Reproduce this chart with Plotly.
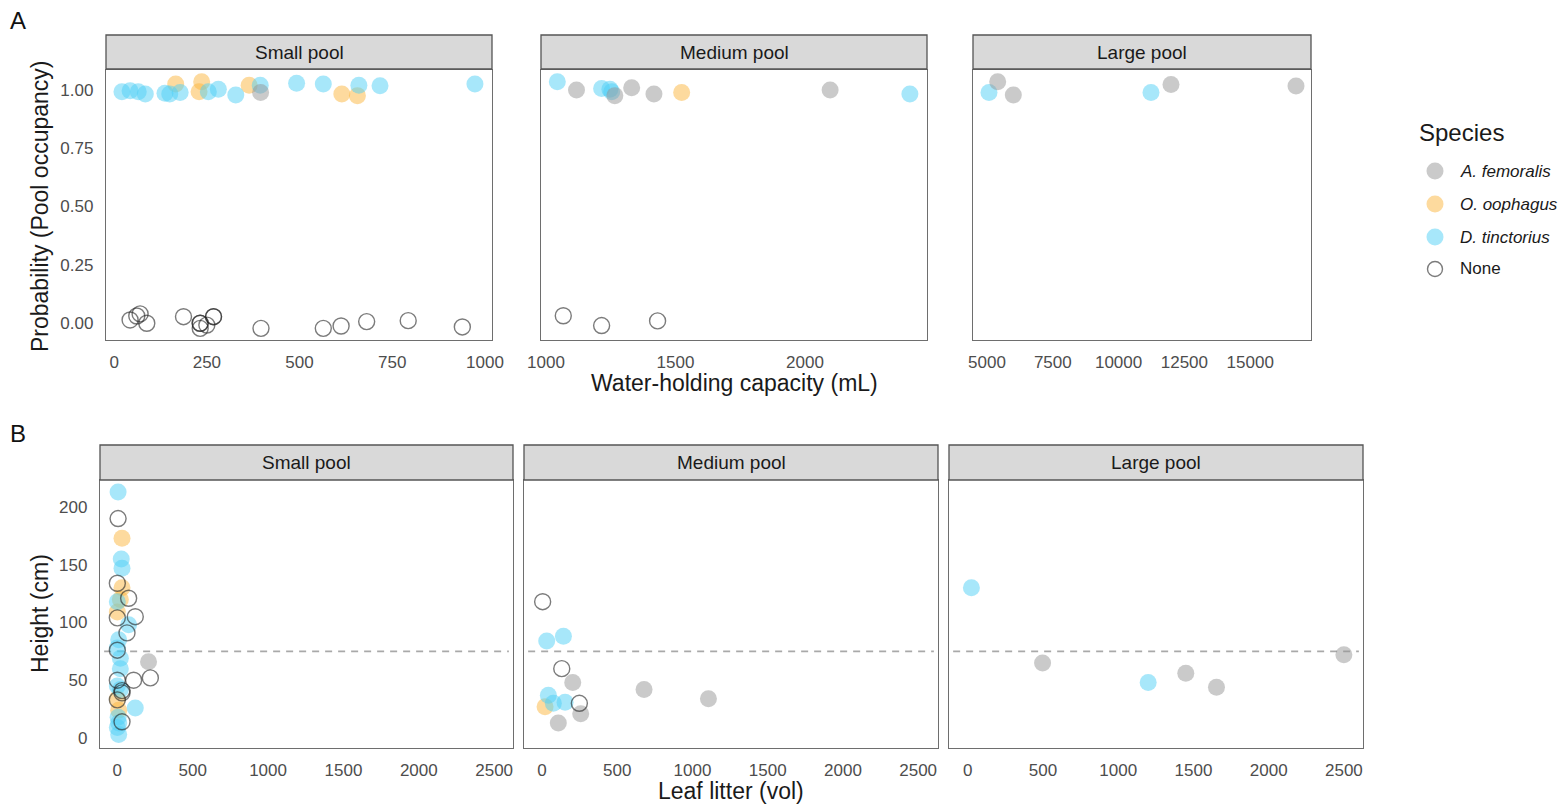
import plotly.graph_objects as go

W, H = 1562, 804

# ---------------- data ----------------
# Species codes: AF = A. femoralis, OO = O. oophagus, DT = D. tinctorius, N = None
species_codes = ["AF", "OO", "DT", "N"]
species_names = ["<i>A. femoralis</i>", "<i>O. oophagus</i>", "<i>D. tinctorius</i>", "None"]
species_fill = ["rgba(150,150,150,0.5)", "rgba(252,182,62,0.5)", "rgba(80,208,245,0.5)", "rgba(35,35,35,0.6)"]
draw_order = ["OO", "DT", "AF", "N"]

pool_labels = ["Small pool", "Medium pool", "Large pool"]

# Panel A: water-holding capacity (mL) vs probability (jittered 0/1)
a_small_x = [21, 43, 65, 84, 137, 150, 178, 254, 281, 328, 394, 492, 564, 660, 717, 973,
             166, 236, 229, 364, 614, 656,
             395,
             43, 61, 70, 88, 187, 232, 232, 232, 250, 268, 268, 396, 564, 612, 681, 793, 939]
a_small_y = [0.993, 0.997, 0.993, 0.983, 0.986, 0.983, 0.989, 0.993, 1.003, 0.979, 1.021, 1.029, 1.026, 1.021, 1.018, 1.026,
             1.026, 1.036, 0.993, 1.021, 0.983, 0.976,
             0.989,
             0.013, 0.030, 0.039, -0.001, 0.027, -0.001, -0.001, -0.023, -0.009, 0.027, 0.027, -0.023, -0.023, -0.013, 0.006, 0.010, -0.017]
a_small_sp = ["DT"] * 16 + ["OO"] * 6 + ["AF"] * 1 + ["N"] * 17

a_medium_x = [1044, 1215, 1247, 1254, 2405,
              1118, 1266, 1331, 1417, 2097,
              1524,
              1067, 1215, 1431]
a_medium_y = [1.036, 1.007, 1.003, 0.993, 0.983,
              1.000, 0.976, 1.010, 0.983, 1.000,
              0.989,
              0.031, -0.011, 0.009]
a_medium_sp = ["DT"] * 5 + ["AF"] * 5 + ["OO"] * 1 + ["N"] * 3

a_large_x = [5076, 11231, 5406, 6000, 11991, 16740]
a_large_y = [0.989, 0.989, 1.036, 0.979, 1.024, 1.017]
a_large_sp = ["DT"] * 2 + ["AF"] * 4

# Panel B: leaf litter (vol) vs height (cm)
b_small_x = [5, 26, 31, 0, 75, 9, 0, 20, 20, 0, 20, 119, 5, 9, 0, 9,
             31, 31, 20, 0, 0, 9,
             207,
             5, 0, 75, 0, 119, 64, 0, 0, 108, 219, 31, 31, 0, 31]
b_small_y = [213, 155, 147, 118, 98, 85, 78, 69, 60, 45, 42, 26, 18, 13, 9, 3,
             173, 130, 120, 109, 34, 24,
             66,
             190, 134, 121, 104, 105, 91, 76, 50, 50, 52, 39, 41, 33, 14]
b_small_sp = ["DT"] * 16 + ["OO"] * 6 + ["AF"] * 1 + ["N"] * 14

b_medium_x = [31, 142, 42, 75, 153,
              204, 678, 1106, 257, 108,
              20,
              4, 131, 248]
b_medium_y = [84, 88, 37, 30, 31,
              48, 42, 34, 21, 13,
              27,
              118, 60, 30]
b_medium_sp = ["DT"] * 5 + ["AF"] * 5 + ["OO"] * 1 + ["N"] * 3

b_large_x = [24, 1199, 497, 1449, 1653, 2500]
b_large_y = [130, 48, 65, 56, 44, 72]
b_large_sp = ["DT"] * 2 + ["AF"] * 4

height_threshold = 75

a_x_ticks = [[0, 250, 500, 750, 1000], [1000, 1500, 2000], [5000, 7500, 10000, 12500, 15000]]
a_y_ticks = [0, 0.25, 0.5, 0.75, 1.0]
b_x_ticks = [0, 500, 1000, 1500, 2000, 2500]
b_y_ticks = [0, 50, 100, 150, 200]

# ---------------- layout geometry (pixels) ----------------
def fx(p):
    return p / W

def fy(p):
    return 1 - p / H

panels = [
    dict(x=a_small_x, y=a_small_y, sp=a_small_sp, xd=(106, 492), yd=(70, 340), strip=(35, 69),
         xr=[-22, 1019], yr=[-0.073, 1.086], xt=a_x_ticks[0], yt=a_y_ticks, yfmt=".2f", label=pool_labels[0]),
    dict(x=a_medium_x, y=a_medium_y, sp=a_medium_sp, xd=(541, 927), yd=(70, 340), strip=(35, 69),
         xr=[981, 2471], yr=[-0.073, 1.086], xt=a_x_ticks[1], yt=None, yfmt=".2f", label=pool_labels[1]),
    dict(x=a_large_x, y=a_large_y, sp=a_large_sp, xd=(973, 1311), yd=(70, 340), strip=(35, 69),
         xr=[4468, 17310], yr=[-0.073, 1.086], xt=a_x_ticks[2], yt=None, yfmt=".2f", label=pool_labels[2]),
    dict(x=b_small_x, y=b_small_y, sp=b_small_sp, xd=(100, 513), yd=(480, 748), strip=(445, 480),
         xr=[-115, 2625], yr=[-8.7, 223.4], xt=b_x_ticks, yt=b_y_ticks, yfmt="d", label=pool_labels[0]),
    dict(x=b_medium_x, y=b_medium_y, sp=b_medium_sp, xd=(524, 938), yd=(480, 748), strip=(445, 480),
         xr=[-120, 2632], yr=[-8.7, 223.4], xt=b_x_ticks, yt=None, yfmt="d", label=pool_labels[1]),
    dict(x=b_large_x, y=b_large_y, sp=b_large_sp, xd=(949, 1363), yd=(480, 748), strip=(445, 480),
         xr=[-125, 2627], yr=[-8.7, 223.4], xt=b_x_ticks, yt=None, yfmt="d", label=pool_labels[2]),
]

FONT = "Liberation Sans, Arial, Helvetica, sans-serif"
TICK_FONT = dict(family=FONT, size=17, color="#4d4d4d")
BORDER = "#6e6e6e"

fig = go.Figure()
layout = dict(
    width=W, height=H,
    margin=dict(l=0, r=0, t=0, b=0, autoexpand=False),
    paper_bgcolor="white", plot_bgcolor="white",
    font=dict(family=FONT, color="#1a1a1a"),
    showlegend=False,
)

shapes = []
annotations = []

for i, p in enumerate(panels, start=1):
    xa = "x" if i == 1 else f"x{i}"
    ya = "y" if i == 1 else f"y{i}"
    for code in draw_order:
        k = species_codes.index(code)
        xs = [xv for xv, s in zip(p["x"], p["sp"]) if s == code]
        ys = [yv for yv, s in zip(p["y"], p["sp"]) if s == code]
        if code == "N":
            marker = dict(symbol="circle-open", size=16, color=species_fill[k], line=dict(width=1.4))
        else:
            marker = dict(symbol="circle", size=17, color=species_fill[k], line=dict(width=0))
        fig.add_trace(go.Scatter(
            x=xs, y=ys, mode="markers", marker=marker,
            name=species_names[k], legendgroup=code,
            showlegend=False, xaxis=xa, yaxis=ya, hoverinfo="x+y+name",
        ))

    xkey = "xaxis" if i == 1 else f"xaxis{i}"
    ykey = "yaxis" if i == 1 else f"yaxis{i}"
    layout[xkey] = dict(
        domain=[fx(p["xd"][0]), fx(p["xd"][1])], anchor=ya, range=p["xr"],
        tickvals=p["xt"], tickformat="d", tickfont=TICK_FONT, ticks="", ticklabelstandoff=6,
        showgrid=False, zeroline=False, showline=True, mirror=True, linecolor=BORDER, linewidth=1.3,
    )
    ydict = dict(
        domain=[fy(p["yd"][1]), fy(p["yd"][0])], anchor=xa, range=p["yr"],
        showgrid=False, zeroline=False, showline=True, mirror=True, linecolor=BORDER, linewidth=1.3,
        ticks="",
    )
    if p["yt"] is not None:
        ydict.update(tickvals=p["yt"], tickformat=p["yfmt"], tickfont=TICK_FONT, ticklabelstandoff=8)
    else:
        ydict.update(showticklabels=False)
    layout[ykey] = ydict

    # facet strip
    shapes.append(dict(type="rect", xref="paper", yref="paper",
                       x0=fx(p["xd"][0]), x1=fx(p["xd"][1]),
                       y0=fy(p["strip"][1]), y1=fy(p["strip"][0]),
                       fillcolor="#d9d9d9", line=dict(color="#555555", width=1.3)))
    annotations.append(dict(text=p["label"], xref="paper", yref="paper",
                            x=fx((p["xd"][0] + p["xd"][1]) / 2), y=fy((p["strip"][0] + p["strip"][1]) / 2),
                            xanchor="center", yanchor="middle", showarrow=False,
                            font=dict(size=19, color="#1a1a1a", family=FONT)))

    # threshold line for panel B
    if i >= 4:
        shapes.append(dict(type="line", xref=f"{xa} domain", yref=ya,
                           x0=0.01, x1=0.99, y0=height_threshold, y1=height_threshold,
                           line=dict(color="#a9a9a9", width=1.6, dash="7px,6px"), layer="below"))

# ---------------- legend (drawn as shapes + text) ----------------
legend_x_marker = 1435
legend_x_text = 1458
legend_rows = [171, 204, 237, 269]
annotations.append(dict(text="Species", xref="paper", yref="paper", x=fx(1417), y=fy(132),
                        xanchor="left", yanchor="middle", showarrow=False,
                        font=dict(size=24, color="#1a1a1a", family=FONT)))
for k, row in enumerate(legend_rows):
    if species_codes[k] == "N":
        shapes.append(dict(type="circle", xref="paper", yref="paper",
                           xsizemode="pixel", ysizemode="pixel",
                           xanchor=fx(legend_x_marker), yanchor=fy(row),
                           x0=-7.5, x1=7.5, y0=-7.5, y1=7.5,
                           fillcolor="rgba(0,0,0,0)", line=dict(color=species_fill[k], width=1.4)))
    else:
        shapes.append(dict(type="circle", xref="paper", yref="paper",
                           xsizemode="pixel", ysizemode="pixel",
                           xanchor=fx(legend_x_marker), yanchor=fy(row),
                           x0=-8.5, x1=8.5, y0=-8.5, y1=8.5,
                           fillcolor=species_fill[k], line=dict(width=0)))
    annotations.append(dict(text=species_names[k], xref="paper", yref="paper",
                            x=fx(legend_x_text), y=fy(row), xanchor="left", yanchor="middle",
                            showarrow=False, font=dict(size=17, color="#1a1a1a", family=FONT)))

# axis titles and panel letters
annotations += [
    dict(text="Water-holding capacity (mL)", xref="paper", yref="paper", x=fx(734), y=fy(383),
         xanchor="center", yanchor="middle", showarrow=False, font=dict(size=23, color="#1a1a1a", family=FONT)),
    dict(text="Probability (Pool occupancy)", xref="paper", yref="paper", x=fx(40), y=fy(207),
         xanchor="center", yanchor="middle", textangle=-90, showarrow=False,
         font=dict(size=23, color="#1a1a1a", family=FONT)),
    dict(text="Leaf litter (vol)", xref="paper", yref="paper", x=fx(731), y=fy(791),
         xanchor="center", yanchor="middle", showarrow=False, font=dict(size=23, color="#1a1a1a", family=FONT)),
    dict(text="Height (cm)", xref="paper", yref="paper", x=fx(40), y=fy(614),
         xanchor="center", yanchor="middle", textangle=-90, showarrow=False,
         font=dict(size=23, color="#1a1a1a", family=FONT)),
    dict(text="A", xref="paper", yref="paper", x=fx(18), y=fy(20),
         xanchor="center", yanchor="middle", showarrow=False, font=dict(size=24, color="#111111", family=FONT)),
    dict(text="B", xref="paper", yref="paper", x=fx(18), y=fy(433),
         xanchor="center", yanchor="middle", showarrow=False, font=dict(size=24, color="#111111", family=FONT)),
]

layout["shapes"] = shapes
layout["annotations"] = annotations
fig.update_layout(**layout)

fig.write_html("out.html")
